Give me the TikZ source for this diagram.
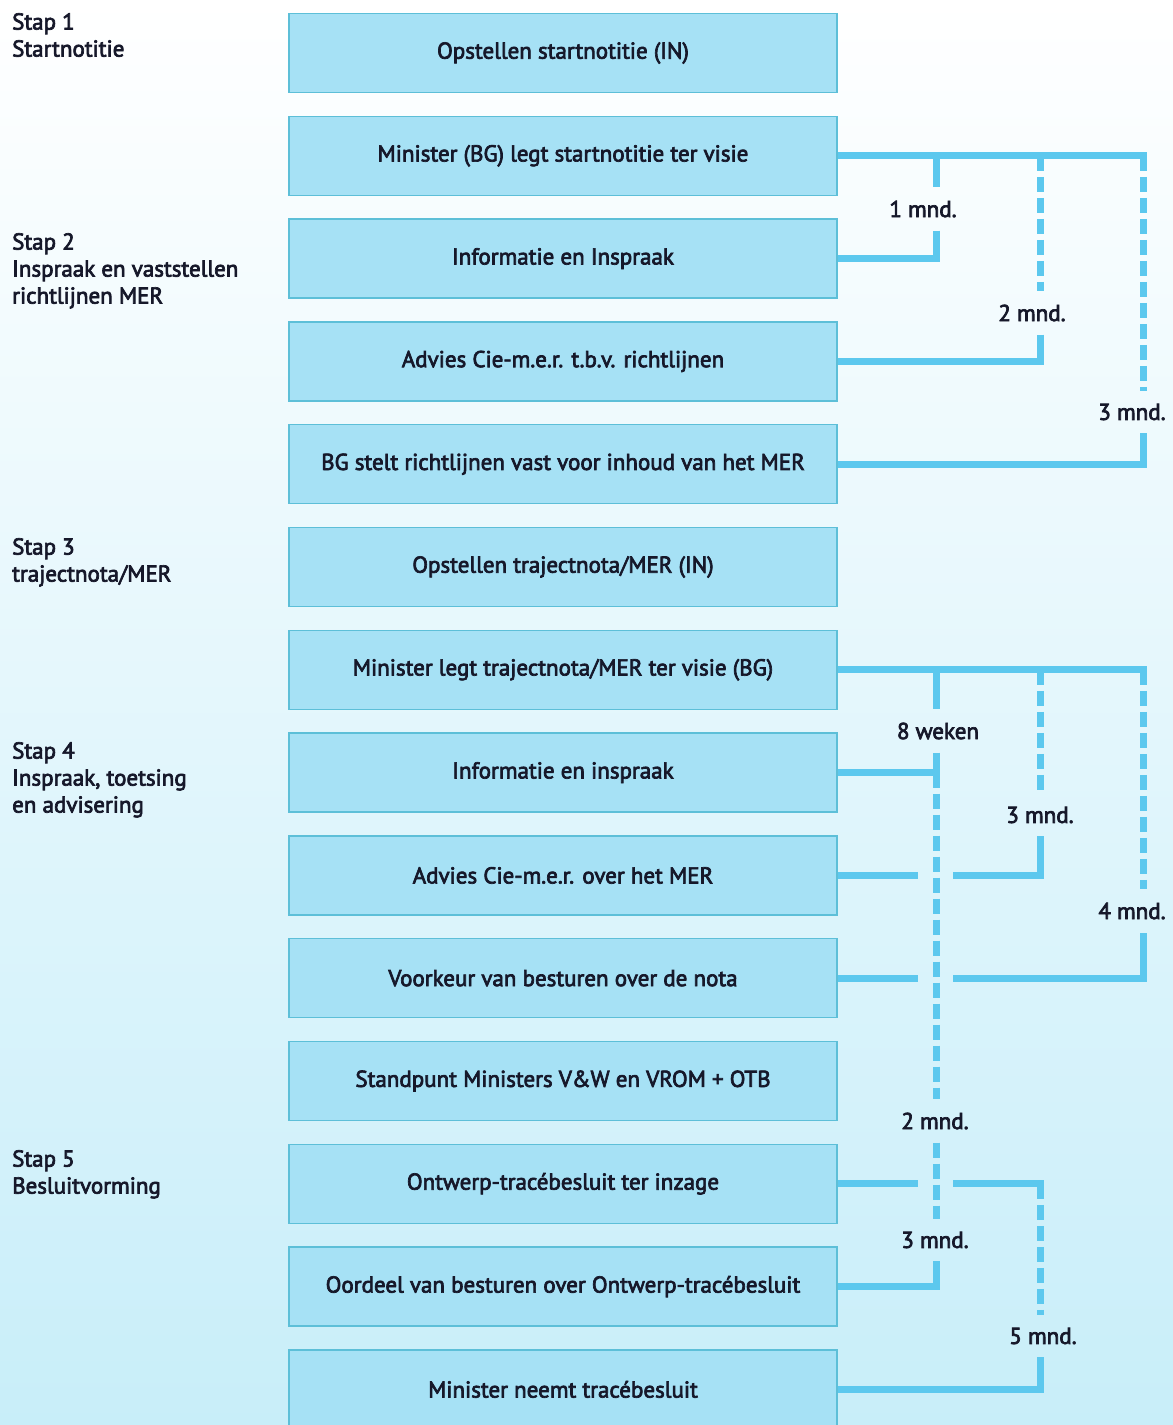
\documentclass[tikz,border=0pt]{standalone}
\usepackage{fontspec}
\setmainfont{PT Sans}[FakeBold=3]
\definecolor{boxfill}{HTML}{A6E1F5}
\definecolor{boxline}{HTML}{5DBFD8}
\definecolor{linkblue}{HTML}{5CC8EE}
\definecolor{bgcyan}{HTML}{C8EEF9}
\definecolor{txt}{HTML}{16182A}

\begin{document}
\begin{tikzpicture}[x=1pt, y=-1pt,
  stepbox/.style={draw=boxline, line width=1.5pt, fill=boxfill, minimum width=548pt,
    minimum height=79pt, inner sep=0pt, text=txt, font=\fontsize{23}{27}\selectfont},
  steplabel/.style={anchor=north west, align=left, inner sep=0pt, text=txt,
    font=\fontsize{23}{27}\selectfont},
  duration/.style={inner xsep=0pt, inner ysep=13pt, text=txt, font=\fontsize{23}{27}\selectfont},
  link/.style={linkblue, line width=7pt},
  dashlink/.style={link, dash pattern=on 15pt off 6pt}]

\def\gap{102.8}

\useasboundingbox (0,0) rectangle (1173,1425);

% Background
\shade[top color=white, middle color=bgcyan!40, bottom color=bgcyan] (0,0) rectangle (1173,1425);

% Draw the boxes
\foreach \t [count=\i] in {Opstellen startnotitie (IN),
    Minister (BG) legt startnotitie ter visie,
    Informatie en Inspraak,
    Advies Cie-m.e.r. t.b.v. richtlijnen,
    BG stelt richtlijnen vast voor inhoud van het MER,
    Opstellen trajectnota/MER (IN),
    Minister legt trajectnota/MER ter visie (BG),
    Informatie en inspraak,
    Advies Cie-m.e.r. over het MER,
    Voorkeur van besturen over de nota,
    Standpunt Ministers V\&W en VROM + OTB,
    Ontwerp-tracébesluit ter inzage,
    Oordeel van besturen over Ontwerp-tracébesluit,
    Minister neemt tracébesluit} {
    \node[stepbox] (b\i) at (563, 53+\gap*\i-\gap) {\t};
}

% Steps on the left
\node[steplabel] (s1) at (12,13) {Stap 1\\Startnotitie};
\node[steplabel] (s2) at (12,233) {Stap 2\\Inspraak en vaststellen\\richtlijnen MER};
\node[steplabel] (s3) at (12,538) {Stap 3\\trajectnota/MER};
\node[steplabel] (s4) at (12,742) {Stap 4\\Inspraak, toetsing\\en advisering};
\node[steplabel] (s5) at (12,1150) {Stap 5\\Besluitvorming};

% Columns for the time lines
\coordinate (c1) at (936,0);
\coordinate (c2) at (1040,0);
\coordinate (c3) at (1143,0);

% Durations
\node[duration] (d1) at (923,209) {1 mnd.};
\node[duration] (d2) at (1032,313) {2 mnd.};
\node[duration] (d3) at (1132,412) {3 mnd.};
\node[duration] (d4) at (938,731) {8 weken};
\node[duration] (d5) at (1040,815) {3 mnd.};
\node[duration] (d6) at (1132,911) {4 mnd.};
\node[duration] (d7) at (935,1121) {2 mnd.};
\node[duration] (d8) at (935,1240) {3 mnd.};
\node[duration] (d9) at (1043,1336) {5 mnd.};

% Startnotitie ter visie
\draw[link] (b2.east) -- ([xshift=3.5pt]c3 |- b2.east);
\draw[link] (c1 |- b2.east) -- (c1 |- d1.north);
\draw[link] (c1 |- d1.south) |- (b3.east);
\draw[dashlink] (c2 |- b2.east) -- (c2 |- d2.north);
\draw[link] (c2 |- d2.south) |- (b4.east);
\draw[dashlink] (c3 |- b2.east) -- (c3 |- d3.north);
\draw[link] (c3 |- d3.south) |- (b5.east);

% Trajectnota/MER ter visie
\draw[link] (b7.east) -- ([xshift=3.5pt]c3 |- b7.east);
\draw[link] (c1 |- b7.east) -- (c1 |- d4.north);
\draw[link] (c1 |- d4.south) |- (b8.east);
\draw[dashlink] (c1 |- b8.east) -- (c1 |- d7.north);
\draw[dashlink] (c1 |- d7.south) -- (c1 |- d8.north);
\draw[link] (c1 |- d8.south) |- (b13.east);
\draw[dashlink] (c2 |- b7.east) -- (c2 |- d5.north);
\draw[link] (b9.east) -- ([xshift=-18pt]c1 |- b9.east);
\draw[link] ([xshift=17pt]c1 |- b9.east) -| (c2 |- d5.south);
\draw[dashlink] (c3 |- b7.east) -- (c3 |- d6.north);
\draw[link] (b10.east) -- ([xshift=-18pt]c1 |- b10.east);
\draw[link] ([xshift=17pt]c1 |- b10.east) -| (c3 |- d6.south);

% Ontwerp-tracebesluit
\draw[link] (b12.east) -- ([xshift=-18pt]c1 |- b12.east);
\draw[link] ([xshift=17pt]c1 |- b12.east) -- ([xshift=3.5pt]c2 |- b12.east);
\draw[dashlink] (c2 |- b12.east) -- (c2 |- d9.north);
\draw[link] (c2 |- d9.south) |- (b14.east);

\end{tikzpicture}
\end{document}
